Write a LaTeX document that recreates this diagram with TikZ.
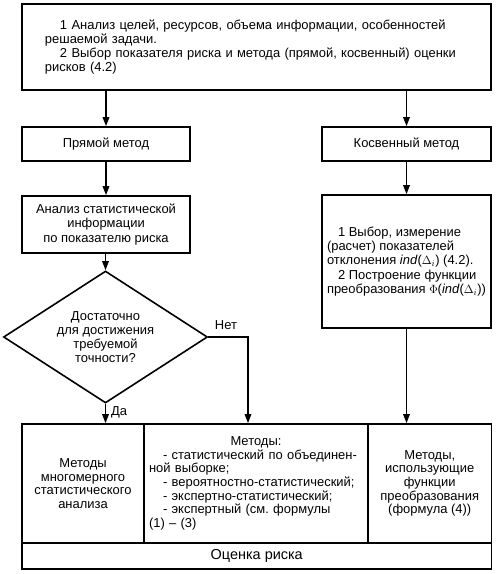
\documentclass[tikz,border=0pt]{standalone}
\usepackage{fontspec}
\setmainfont{Liberation Sans}
\usetikzlibrary{arrows.meta,shapes.geometric}
\begin{document}
\begin{tikzpicture}[x=1bp,y=-1bp,
  box/.style={draw,line width=1.6bp,inner sep=0pt,font=\fontsize{13}{14.3}\selectfont},
  cell/.style={box,font=\fontsize{13}{13.7}\selectfont},
  arr/.style={line width=1.6bp,-{Triangle[length=9bp,width=6.5bp]}},
  lbl/.style={inner sep=0pt,font=\fontsize{13}{14}\selectfont}]
\useasboundingbox[fill=white] (0,0) rectangle (496,574);

\node[box,minimum width=469bp,minimum height=86bp,text width=423bp,align=left] (top) at (256.5,47)
 {\mbox{\hspace*{15bp}1 Анализ целей, ресурсов, объема информации, особенностей}\\
  \mbox{решаемой задачи.}\\
  \mbox{\hspace*{15bp}2 Выбор показателя риска и метода (прямой, косвенный) оценки}\\
  \mbox{рисков (4.2)}};

\node[box,minimum width=168bp,minimum height=34bp] (pr) at (106,144) {Прямой метод};
\node[box,minimum width=169bp,minimum height=34bp] (kos) at (406.5,144) {Косвенный метод};

\draw[arr] (top.south -| pr.north) -- (pr.north);
\draw[arr] (top.south -| kos.north) -- (kos.north);

\node[box,minimum width=168bp,minimum height=57bp,align=center] (an) at (106,224.5)
 {Анализ статистической\\информации\\по показателю риска};
\draw[arr] (pr.south) -- (an.north);

\node[box,shape=diamond,aspect=1.545,minimum width=204bp,minimum height=132bp,align=center] (dia) at (105.5,337)
 {Достаточно\\для достижения\\требуемой\\точности?};
\draw[arr] (an.south -| dia.north) -- (dia.north);

\node[box,minimum width=169bp,minimum height=133bp,align=left] (kos2) at (406.5,261.5)
 {\hspace*{11bp}1 Выбор, измерение\\
  (расчет) показателей\\
  отклонения \textit{ind}($\Delta_i$) (4.2).\\
  \hspace*{11bp}2 Построение функции\\
  преобразования $\Phi$(\textit{ind}($\Delta_i$))};
\draw[arr] (kos.south) -- (kos2.north);

% bottom block
\node[cell,minimum width=122bp,minimum height=119bp,align=center] (c1) at (83,483.5)
 {Методы\\многомерного\\статистического\\анализа};
\node[cell,minimum width=224bp,minimum height=119bp,text width=214bp,align=left] (c2) at (256,483.5)
 {\makebox[214bp]{Методы:}\\
  \mbox{\hspace*{14bp}- статистический по объединен-}\\
  \mbox{ной выборке;}\\
  \mbox{\hspace*{14bp}- вероятностно-статистический;}\\
  \mbox{\hspace*{14bp}- экспертно-статистический;}\\
  \mbox{\hspace*{14bp}- экспертный (см.\ формулы}\\
  \mbox{(1) – (3)}\\[4bp]};
\node[cell,minimum width=123.5bp,minimum height=119bp,align=center] (c3) at (429.75,483.5)
 {Методы,\\использующие\\функции\\преобразования\\(формула (4))};
\node[box,minimum width=469.5bp,minimum height=26bp,font=\fontsize{14.5}{16}\selectfont] (c4) at (256.75,556) {Оценка риска};

\coordinate (net) at (248,337);
\draw[arr] (dia.south) -- (dia.south |- c1.north);
\draw[arr] (dia.east) -- (net) -- (net |- c2.north);
\draw[arr] (kos2.south) -- (kos2.south |- c3.north);

\node[lbl,anchor=west] (da) at (111,412) {Да};
\node[lbl] (nt) at (226,325) {Нет};
\end{tikzpicture}
\end{document}
